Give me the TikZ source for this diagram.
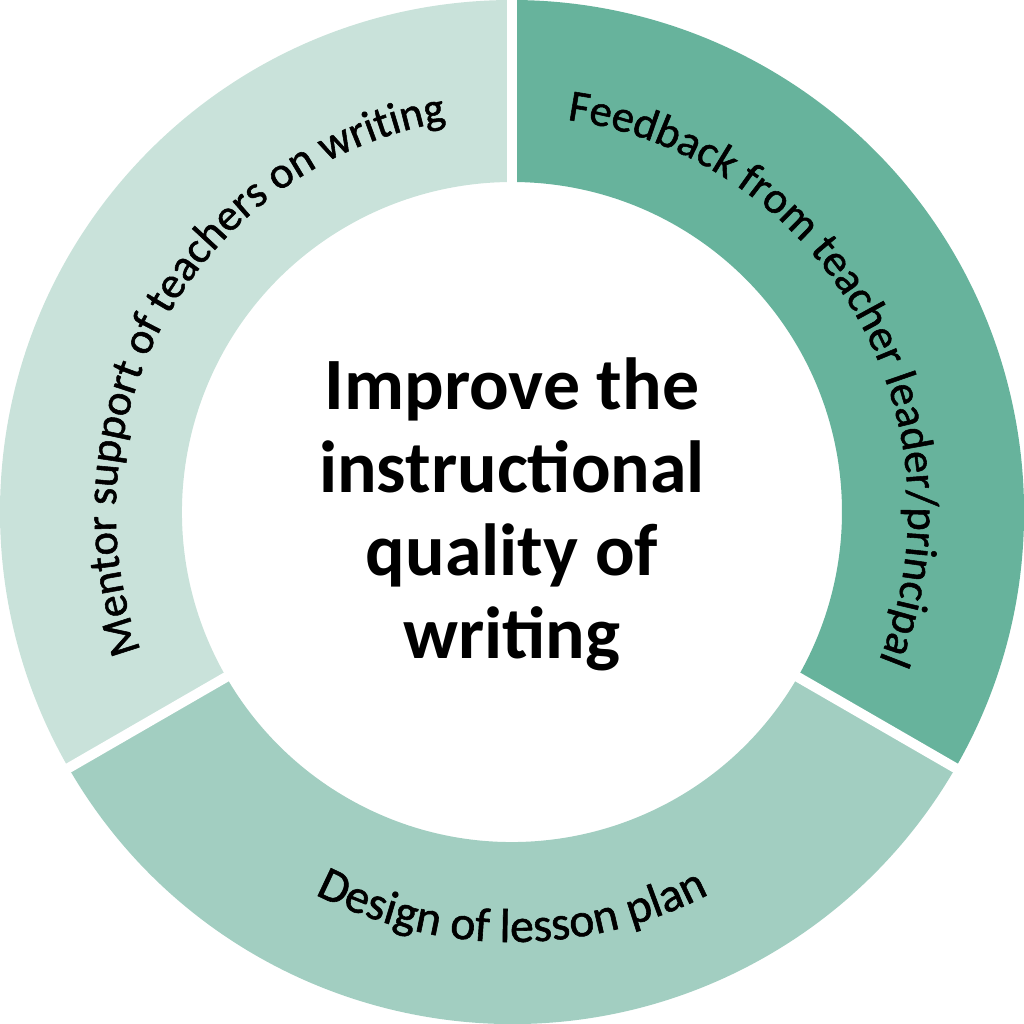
\documentclass[tikz,border=0pt]{standalone}
\usepackage{fontspec}
\setmainfont{Carlito}
\newfontfamily\ringfont{Carlito}[FakeBold=1.2]
\usepackage{tikz}
\usetikzlibrary{decorations.text}
\definecolor{ringLight}{RGB}{201,226,218}
\definecolor{ringMid}{RGB}{162,206,193}
\definecolor{ringDark}{RGB}{103,179,156}

\begin{document}
\begin{tikzpicture}[
  ringgap/.style={draw=white, line width=1mm},
  ringlabel/.style 2 args={decorate, decoration={text along path, text align=center,
    text={|\ringfont\fontsize{#1}{16}\selectfont|#2}}},
  centrelabel/.style={font=\fontsize{21}{23.6}\selectfont\bfseries, align=center, inner sep=0pt}
]
\useasboundingbox (-5.12,-5.12) rectangle (5.12,5.12);

% Ring: three sectors
\fill[ringLight] (90:5.12) arc[start angle=90, end angle=210, radius=5.12]
  -- (210:3.3) arc[start angle=210, end angle=90, radius=3.3] -- cycle;
\fill[ringDark] (-30:5.12) arc[start angle=-30, end angle=90, radius=5.12]
  -- (90:3.3) arc[start angle=90, end angle=-30, radius=3.3] -- cycle;
\fill[ringMid] (210:5.12) arc[start angle=210, end angle=330, radius=5.12]
  -- (330:3.3) arc[start angle=330, end angle=210, radius=3.3] -- cycle;

% White gaps between sectors
\foreach \a in {90,210,330}
  \draw[ringgap] (\a:3.2) -- (\a:5.3);

% Labels along the ring
\path[ringlabel={12.7}{Mentor support of teachers on writing}]
  (210:3.96) arc[start angle=210, end angle=90, radius=3.96];
\path[ringlabel={12.7}{Feedback from teacher leader/principal}]
  (90:3.96) arc[start angle=90, end angle=-30, radius=3.96];
\path[ringlabel={13.6}{Design of lesson plan}]
  (210:4.3) arc[start angle=210, end angle=330, radius=4.3];

% Centre
\node[centrelabel] (goal) at (0,-0.02) {Improve the\\instructional\\quality of\\writing};
\end{tikzpicture}
\end{document}
